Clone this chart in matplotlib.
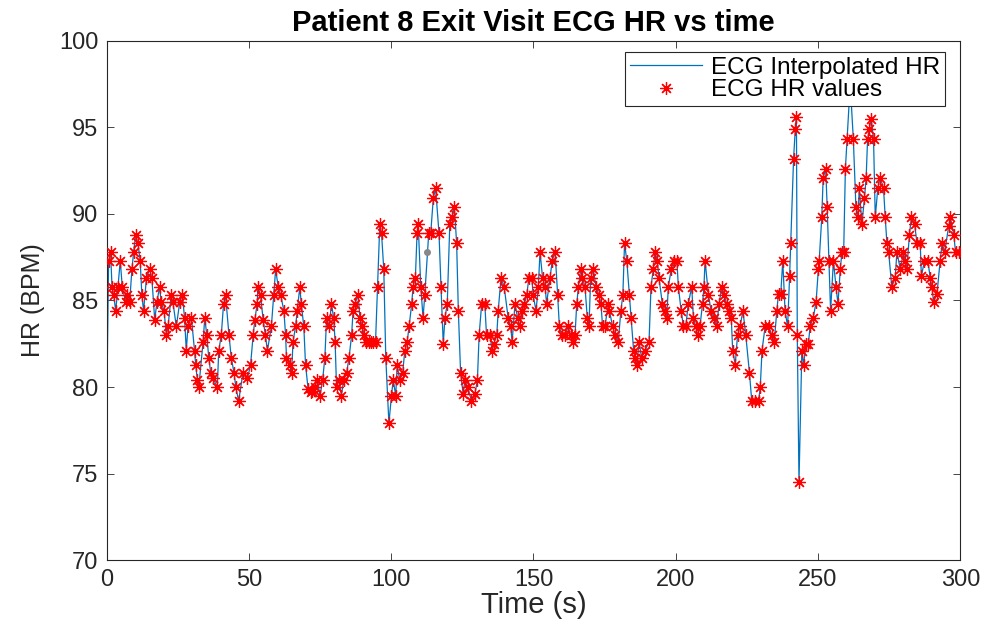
import matplotlib
matplotlib.use("Agg")
import matplotlib.pyplot as plt

plt.rcParams['font.family'] = ['Liberation Sans', 'DejaVu Sans']

# beat times (s) and HR values (BPM)
t_beats = [
    0.7, 1.4, 1.9, 2.5, 3.2, 4.0, 4.8, 5.5, 6.7, 7.3, 8.1, 8.9, 9.5, 10.2, 11.0, 11.8,
    12.4, 13.0, 14.0, 15.1, 15.9, 16.9, 17.7, 18.6, 19.2, 20.2, 21.0, 21.6, 22.7, 23.3,
    24.5, 25.7, 26.6, 27.4, 28.0, 28.6, 29.8, 30.9, 31.3, 31.9, 32.4, 33.9, 34.5, 35.2,
    35.9, 36.6, 37.4, 38.9, 39.4, 40.3, 41.1, 41.8, 43.0, 43.8, 44.8, 45.4, 46.4, 47.9,
    49.5, 50.6, 51.5, 52.1, 52.9, 53.2, 54.1, 55.0, 55.8, 56.5, 57.9, 58.7, 59.4, 60.3,
    61.2, 62.3, 62.9, 63.2, 64.4, 65.0, 65.5, 66.4, 67.0, 67.9, 68.4, 69.3, 69.9, 70.8,
    71.7, 72.3, 73.2, 74.0, 75.0, 75.9, 76.7, 77.3, 78.2, 79.0, 79.8, 80.3, 80.8, 81.7,
    82.5, 83.3, 84.3, 85.2, 86.1, 86.6, 87.2, 88.4, 89.0, 89.8, 90.5, 91.3, 92.1, 92.9,
    93.7, 94.5, 95.2, 96.0, 96.6, 97.4, 98.1, 99.2, 100.1, 100.7, 101.6, 102.1, 103.0,
    104.0, 104.8, 105.6, 106.3, 107.2, 107.7, 108.5, 109.1, 109.5, 110.4, 111.2, 111.8,
    113.2, 113.9, 114.8, 115.6, 116.8, 117.5, 118.3, 118.9, 119.7, 120.6, 121.5, 122.2,
    123.0, 123.6, 124.4, 125.3, 125.9, 126.9, 128.2, 129.4, 130.3, 130.9, 131.8, 132.9,
    133.5, 134.7, 135.5, 136.1, 137.1, 137.6, 138.6, 139.7, 141.1, 142.0, 142.5, 143.5,
    144.4, 145.2, 146.1, 146.8, 147.6, 148.4, 149.4, 149.9, 150.9, 151.7, 152.3, 153.2,
    154.1, 154.6, 155.8, 156.6, 157.6, 158.5, 159.1, 159.9, 161.1, 162.2, 163.1, 163.8,
    164.6, 165.2, 165.8, 166.6, 167.2, 168.1, 168.9, 169.5, 170.1, 171.0, 172.0, 173.0,
    173.7, 174.3, 175.1, 176.3, 176.7, 177.8, 178.7, 179.8, 180.7, 181.4, 182.0, 182.8,
    183.7, 184.3, 185.2, 185.6, 186.3, 187.1, 188.0, 189.2, 190.6, 191.3, 192.1, 192.7,
    193.5, 194.1, 195.3, 196.2, 196.8, 197.4, 198.4, 199.4, 200.4, 200.9, 201.9, 202.7,
    203.5, 204.4, 205.6, 206.2, 207.0, 207.7, 208.5, 209.4, 209.9, 210.3, 211.5, 212.4,
    213.6, 214.4, 215.2, 216.2, 217.1, 217.9, 218.7, 219.5, 220.0, 220.9, 221.7, 222.6,
    223.6, 224.6, 225.9, 226.7, 227.9, 229.1, 229.7, 230.3, 231.4, 232.6, 233.8, 234.6,
    235.5, 236.1, 236.9, 237.6, 238.4, 239.3, 240.0, 240.4, 241.4, 242.0, 242.4, 242.7,
    243.3, 244.3, 244.9, 245.8, 246.6, 247.2, 248.3, 249.3, 250.1, 250.4, 251.3, 251.8,
    252.7, 253.2, 253.8, 254.4, 255.4, 256.3, 257.0, 257.8, 258.4, 259.0, 259.6, 260.2,
    261.3, 262.4, 263.3, 264.0, 264.5, 265.4, 266.3, 266.9, 267.4, 268.0, 268.7, 269.5,
    270.1, 271.0, 271.8, 273.0, 273.6, 274.2, 274.8, 275.9, 277.1, 277.7, 278.9, 280.0,
    280.6, 281.2, 282.1, 282.8, 283.9, 284.8, 285.9, 286.3, 287.4, 288.6, 289.4, 290.0,
    290.6, 291.8, 292.9, 293.6, 294.5, 295.9, 296.5, 297.7, 298.3, 299.5,
]
hr_beats = [
    87.3, 87.8, 85.8, 85.3, 84.4, 85.8, 87.3, 85.8, 84.9, 85.3, 84.9, 86.8, 87.8, 88.8, 88.3, 87.3,
    85.3, 84.4, 86.3, 86.8, 86.3, 83.9, 84.9, 85.8, 84.9, 84.4, 83.0, 83.5, 85.3, 84.9,
    83.5, 84.9, 85.3, 84.0, 82.1, 83.5, 84.0, 82.1, 81.3, 80.4, 80.0, 82.6, 84.0, 83.0,
    81.7, 80.8, 80.5, 80.0, 82.1, 83.0, 84.8, 85.3, 83.0, 81.7, 80.8, 80.0, 79.2, 80.8,
    80.5, 81.3, 83.0, 83.9, 84.8, 85.8, 85.3, 83.9, 83.0, 82.1, 83.5, 85.3, 86.8, 85.8,
    85.3, 84.4, 83.0, 81.7, 81.3, 80.8, 82.6, 83.5, 84.4, 85.8, 84.8, 83.5, 81.3, 79.9,
    79.7, 79.8, 80.0, 80.4, 79.5, 80.4, 81.7, 84.0, 83.5, 84.8, 84.0, 82.6, 80.0, 80.4,
    79.5, 80.4, 80.8, 81.7, 83.0, 84.4, 84.8, 85.3, 84.0, 83.5, 83.0, 82.6, 82.6, 82.6,
    82.6, 82.6, 85.8, 89.4, 88.9, 86.8, 81.7, 77.9, 79.5, 80.4, 79.5, 81.3, 80.4,
    80.8, 82.1, 82.6, 83.5, 84.8, 85.8, 86.3, 88.9, 89.4, 85.8, 84.0, 85.3,
    88.9, 88.9, 90.9, 91.5, 88.9, 85.8, 82.5, 84.0, 84.8, 89.4, 89.8, 90.4,
    88.3, 84.4, 80.8, 79.6, 80.4, 80.0, 79.2, 79.6, 80.4, 83.0, 84.8, 84.8,
    83.0, 83.0, 82.1, 82.5, 83.0, 84.4, 86.3, 85.8, 84.0, 83.5, 82.6, 84.8,
    84.0, 83.5, 84.4, 84.8, 85.3, 86.3, 86.3, 85.3, 84.4, 85.8, 87.8, 86.3,
    85.8, 84.8, 86.3, 87.3, 87.8, 85.3, 83.5, 83.0, 83.0, 83.5, 83.0, 82.6,
    83.0, 84.8, 85.8, 86.8, 86.3, 85.8, 84.0, 83.5, 86.3, 86.8, 85.8, 85.3,
    84.8, 83.5, 83.5, 84.8, 84.4, 83.5, 83.0, 82.6, 84.4, 85.3, 88.3, 87.3,
    85.3, 84.0, 82.1, 81.7, 81.3, 82.6, 81.7, 82.1, 82.6, 85.8, 86.8, 87.8,
    87.3, 86.3, 84.8, 84.4, 84.0, 85.8, 86.8, 87.3, 87.3, 85.8, 84.4, 83.5,
    83.5, 84.8, 85.8, 84.0, 83.5, 83.0, 83.5, 84.8, 85.8, 87.3, 85.3, 84.4,
    84.0, 83.5, 84.8, 85.8, 85.3, 84.8, 84.4, 84.0, 82.1, 81.3, 83.0, 83.5,
    84.4, 83.0, 80.8, 79.2, 79.2, 79.2, 80.0, 82.1, 83.5, 83.5, 83.0, 82.6,
    84.4, 85.4, 85.4, 87.3, 84.4, 83.5, 86.4, 88.3, 93.2, 94.9, 95.6, 83.0,
    74.5, 82.1, 81.3, 82.5, 82.5, 83.5, 84.0, 84.9, 86.8, 87.3, 89.8, 92.1,
    92.6, 90.4, 87.3, 84.4, 87.3, 85.8, 84.8, 86.8, 87.8, 87.8, 92.6, 94.3,
    97.5, 94.3, 90.4, 89.8, 91.5, 89.4, 90.9, 92.1, 94.3, 94.9, 95.5, 94.3,
    89.8, 91.5, 92.1, 91.5, 89.8, 88.3, 87.8, 85.8, 86.3, 87.8, 86.8, 87.8,
    87.3, 86.8, 88.8, 89.8, 89.4, 88.3, 88.3, 86.4, 87.3, 87.3, 86.3, 85.8,
    84.9, 85.4, 87.3, 88.3, 87.8, 89.3, 89.8, 88.8, 87.8, 87.8,
]

# interpolated trace starts at t = 0 before the first detected beat
t_start = 0.0
hr_start = 78.2

# data-cursor dot left on the figure
cursor_t = 112.5
cursor_hr = 87.8

fig = plt.figure(figsize=(9.87, 6.28), dpi=100)
ax = fig.add_axes([0.108, 0.108, 0.865, 0.827])

ax.plot([t_start] + t_beats, [hr_start] + hr_beats, color='#0072BD', linewidth=0.9,
        label='ECG Interpolated HR', zorder=2)
ax.plot(t_beats, hr_beats, linestyle='none', marker=(8, 2, 0), markersize=9,
        markeredgewidth=0.9, color='red', label='ECG HR values', zorder=3)
ax.plot([cursor_t], [cursor_hr], 'o', color='#888888', markersize=4, zorder=4)

ax.set_xlim(0, 300)
ax.set_ylim(70, 100)
ax.set_xticks(range(0, 301, 50))
ax.set_yticks(range(70, 101, 5))
ax.tick_params(direction='in', top=True, right=True, length=5, width=0.6,
               labelsize=17, colors='#262626', pad=6)
for s in ax.spines.values():
    s.set_color('#262626')
    s.set_linewidth(0.8)

ax.set_xlabel('Time (s)', fontsize=21, color='#262626', labelpad=0)
ax.set_ylabel('HR (BPM)', fontsize=18, color='#262626', labelpad=10)
ax.set_title('Patient 8 Exit Visit ECG HR vs time', fontsize=21, fontweight='bold', pad=7)

leg = ax.legend(loc='upper right', bbox_to_anchor=(0.982, 0.979), borderaxespad=0,
                fontsize=17.5, frameon=True, fancybox=False, framealpha=1,
                edgecolor='#262626', handlelength=3.0, labelspacing=0.02,
                borderpad=0.2, handletextpad=0.35)
leg.get_frame().set_linewidth(0.8)

fig.savefig('out.png', dpi=100)
